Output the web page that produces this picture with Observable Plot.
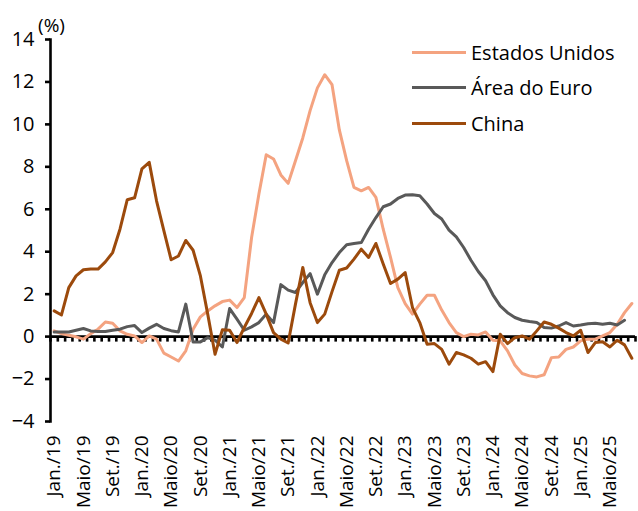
<!DOCTYPE html>
<html>
<head>
<meta charset="utf-8">
<script src="https://cdn.jsdelivr.net/npm/d3@7"></script>
<script src="https://cdn.jsdelivr.net/npm/@observablehq/plot@0.6"></script>
<style>
  html, body { margin: 0; padding: 0; background: #fff; }
  #wrap { position: relative; width: 638px; height: 511px; font-family: "Open Sans", sans-serif; }
  #legend { position: absolute; left: 412px; top: 35px; font-size: 20px; color: #000; }
  .row { display: flex; align-items: center; height: 35.3px; }
  .sw { width: 54px; height: 3px; margin-right: 5px; }
</style>
</head>
<body>
<div id="wrap"><div id="legend"></div></div>
<script>
// Monthly series, Jan/2019 onwards (index 0 = Jan/19)
const seriesNames = ["Estados Unidos", "Área do Euro", "China"];
const seriesColors = ["#F4A380", "#595959", "#9C4A0C"];

const estadosUnidos = [
  0.27, 0.14, 0.06, -0.01, -0.12, 0.14, 0.35, 0.69, 0.63, 0.27, 0.11, 0.03,
  -0.28, 0.03, -0.12, -0.78, -0.96, -1.15, -0.67, 0.35, 0.93, 1.21, 1.45, 1.65,
  1.72, 1.37, 1.84, 4.67, 6.72, 8.57, 8.37, 7.62, 7.22, 8.29, 9.36, 10.65,
  11.72, 12.34, 11.87, 9.74, 8.29, 7.03, 6.87, 7.03, 6.56, 5.06, 3.73, 2.31,
  1.55, 1.06, 1.53, 1.95, 1.95, 1.25, 0.66, 0.19, 0.0, 0.11, 0.08, 0.22,
  -0.17, -0.2, -0.67, -1.34, -1.74, -1.85, -1.9, -1.8, -0.99, -0.96, -0.6, -0.49,
  -0.2, -0.12, -0.12, 0.03, 0.19, 0.58, 1.13, 1.56
];
const areaDoEuro = [
  0.22, 0.22, 0.22, 0.3, 0.38, 0.27, 0.24, 0.24, 0.3, 0.35, 0.47, 0.52,
  0.19, 0.4, 0.58, 0.38, 0.28, 0.22, 1.53, -0.25, -0.25, -0.05, -0.17, -0.49,
  1.32, 0.82, 0.3, 0.46, 0.66, 1.06, 0.66, 2.45, 2.19, 2.08, 2.55, 2.97,
  2.0, 2.91, 3.49, 3.96, 4.33, 4.39, 4.43, 5.06, 5.61, 6.12, 6.25, 6.51,
  6.67, 6.68, 6.64, 6.25, 5.8, 5.54, 5.02, 4.7, 4.2, 3.6, 3.07, 2.63,
  1.97, 1.45, 1.13, 0.9, 0.77, 0.71, 0.66, 0.43, 0.4, 0.5, 0.66, 0.5,
  0.55, 0.61, 0.63, 0.58, 0.63, 0.55, 0.77
];
const china = [
  1.21, 1.02, 2.31, 2.86, 3.15, 3.19, 3.18, 3.52, 3.96, 5.06, 6.45, 6.54,
  7.9, 8.21, 6.4, 4.99, 3.62, 3.8, 4.53, 4.07, 2.86, 1.06, -0.83, 0.32,
  0.3, -0.28, 0.43, 1.09, 1.84, 1.06, 0.19, -0.12, -0.3, 1.53, 3.26, 1.6,
  0.66, 1.06, 2.12, 3.13, 3.23, 3.65, 4.12, 3.73, 4.39, 3.42, 2.5, 2.71,
  3.02, 1.37, 0.66, -0.36, -0.33, -0.6, -1.3, -0.75, -0.86, -1.02, -1.3, -1.18,
  -1.65, 0.11, -0.33, -0.05, 0.03, -0.12, 0.27, 0.69, 0.58, 0.4, 0.19, 0.03,
  0.3, -0.75, -0.28, -0.24, -0.49, -0.17, -0.39, -1.02
];

const tickLabels = [
  "Jan./19", "Maio/19", "Set./19", "Jan./20", "Maio/20", "Set./20",
  "Jan./21", "Maio/21", "Set./21", "Jan./22", "Maio/22", "Set./22",
  "Jan./23", "Maio/23", "Set./23", "Jan./24", "Maio/24", "Set./24",
  "Jan./25", "Maio/25"
];
const yTicks = [-4, -2, 0, 2, 4, 6, 8, 10, 12, 14];

const allSeries = [estadosUnidos, areaDoEuro, china];
const rows = [];
allSeries.forEach((vals, s) => vals.forEach((v, i) => rows.push({serie: seriesNames[s], i, v})));

const nMonths = estadosUnidos.length;
const boundaries = d3.range(nMonths + 1).map(k => k - 0.5);
const labelIdx = tickLabels.map((_, k) => k * 4);

const chart = Plot.plot({
  width: 638,
  height: 511,
  marginLeft: 50,
  marginRight: 3,
  marginTop: 39,
  marginBottom: 90,
  style: {fontFamily: "Open Sans, sans-serif", fontSize: "19px", color: "#000", background: "#fff"},
  x: {domain: [-0.5, nMonths - 0.5]},
  y: {domain: [-4, 14]},
  color: {domain: seriesNames, range: seriesColors},
  marks: [
    Plot.ruleY([0], {stroke: "#000", strokeWidth: 2.6}),
    Plot.ruleX(boundaries, {x: d => d, y1: 0, y2: 0, insetBottom: -5.5, stroke: "#000", strokeWidth: 2.6}),
    Plot.lineY(rows, {x: "i", y: "v", z: "serie", stroke: "serie", strokeWidth: 3, strokeLinejoin: "round"}),
    Plot.frame({anchor: "left", stroke: "#000", strokeWidth: 2.6}),
    Plot.axisY({ticks: yTicks, tickSize: 5, tickPadding: 11, strokeWidth: 2.6, fontSize: 20, label: null}),
    Plot.axisX({ticks: labelIdx, tickFormat: i => tickLabels[i / 4], tickRotate: -90, tickSize: 0, tickPadding: 14, fontSize: 19, label: null}),
    Plot.text(["(%)"], {frameAnchor: "top-left", dx: 1, dy: -21, fontSize: 19, textAnchor: "middle"})
  ]
});
document.getElementById("wrap").prepend(chart);

const legend = document.getElementById("legend");
seriesNames.forEach((name, s) => {
  const row = document.createElement("div");
  row.className = "row";
  const sw = document.createElement("div");
  sw.className = "sw";
  sw.style.background = seriesColors[s];
  const t = document.createElement("span");
  t.textContent = name;
  row.appendChild(sw);
  row.appendChild(t);
  legend.appendChild(row);
});
</script>
</body>
</html>
